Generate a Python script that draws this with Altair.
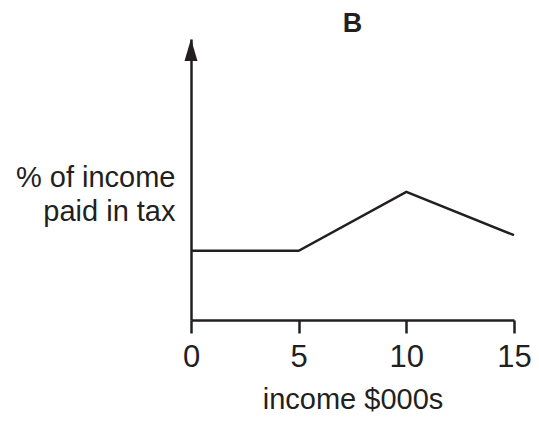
import altair as alt
import pandas as pd

# data
income = [0, 5, 10, 15]
tax_pct = [24.6, 24.6, 45.6, 30.2]
x_ticks = [0, 5, 10, 15]

INK = "#231f20"
FONT = "Liberation Sans"

df = pd.DataFrame({"income": income, "tax": tax_pct})
arrow_df = pd.DataFrame({"income": [0], "tax": [100]})

x_enc = alt.X(
    "income:Q",
    scale=alt.Scale(domain=[0, 15], nice=False, zero=False),
    axis=alt.Axis(
        values=x_ticks,
        title="income $000s",
        titleFont=FONT,
        titleFontSize=29,
        titleFontWeight="normal",
        titleColor=INK,
        titleBaseline="alphabetic",
        titleY=88,
        labelFont=FONT,
        labelFontSize=31,
        labelColor=INK,
        labelBaseline="alphabetic",
        labelPadding=33,
        labelFlush=False,
        labelOverlap=False,
        tickSize=13,
        tickWidth=2.5,
        tickColor=INK,
        domainColor=INK,
        domainWidth=2.5,
        grid=False,
    ),
)

y_enc = alt.Y(
    "tax:Q",
    scale=alt.Scale(domain=[0, 100], nice=False),
    axis=alt.Axis(
        title=["% of income", "paid in tax"],
        titleAngle=0,
        titleAlign="right",
        titleBaseline="alphabetic",
        titleX=-16,
        titleY=147,
        titleLineHeight=34,
        titleFont=FONT,
        titleFontSize=29,
        titleFontWeight="normal",
        titleColor=INK,
        labels=False,
        ticks=False,
        grid=False,
        domainColor=INK,
        domainWidth=2.5,
    ),
)

line = alt.Chart(df).mark_line(color=INK, strokeWidth=2.5).encode(x=x_enc, y=y_enc)

arrow = alt.Chart(arrow_df).mark_point(
    shape="M0,-1 L0.59,1 L-0.59,1 Z",
    size=484,
    filled=True,
    color=INK,
    opacity=1,
    yOffset=11,
).encode(x="income:Q", y="tax:Q")

chart = (
    alt.layer(line, arrow)
    .properties(
        width=323,
        height=281,
        padding={"left": 183, "top": 31, "right": 17, "bottom": 94},
        autosize=alt.AutoSizeParams(type="none"),
        background="white",
        title=alt.TitleParams(
            "B",
            font=FONT,
            fontSize=27,
            fontWeight="bold",
            color=INK,
            anchor="middle",
            baseline="alphabetic",
            offset=-20,
            frame="group",
        ),
    )
    .configure_view(strokeWidth=0, stroke="transparent")
)

chart.save("out.html", embed_options={"renderer": "svg", "actions": False})
